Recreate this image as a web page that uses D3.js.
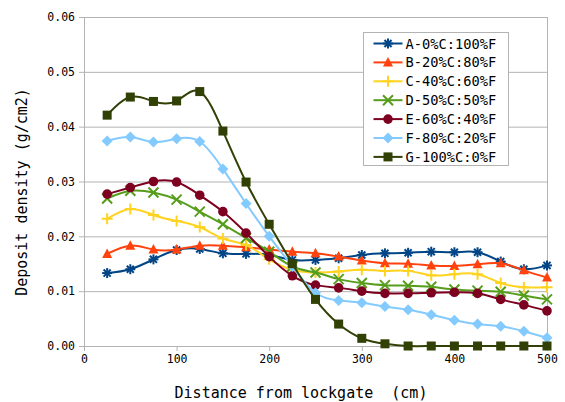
<!DOCTYPE html>
<html>
<head>
<meta charset="utf-8">
<script src="https://cdn.jsdelivr.net/npm/d3@7"></script>
<style>
  body { margin: 0; background: #fff; }
  text { font-family: "DejaVu Sans Mono", monospace; fill: #000; }
</style>
</head>
<body>
<div id="chart"></div>
<script>
// distances from lockgate (cm)
var distances = [25, 50, 75, 100, 125, 150, 175, 200, 225, 250,
  275, 300, 325, 350, 375, 400, 425, 450, 475, 500];

var seriesNames = ["A-0%C:100%F", "B-20%C:80%F", "C-40%C:60%F", "D-50%C:50%F",
  "E-60%C:40%F", "F-80%C:20%F", "G-100%C:0%F"];

var seriesA = [0.0133, 0.0140, 0.0158, 0.0175, 0.0177, 0.0169, 0.0168, 0.0166, 0.0157, 0.0157,
  0.0160, 0.0166, 0.0169, 0.0170, 0.0172, 0.0171, 0.0171, 0.0154, 0.0140, 0.0147];
var seriesB = [0.0168, 0.0183, 0.0176, 0.0176, 0.0183, 0.0183, 0.0180, 0.0176, 0.0172, 0.0169,
  0.0163, 0.0156, 0.0151, 0.0150, 0.0147, 0.0146, 0.0149, 0.0151, 0.0138, 0.0125];
var seriesC = [0.0232, 0.0250, 0.0239, 0.0228, 0.0217, 0.0196, 0.0184, 0.0158, 0.0139, 0.0134,
  0.0136, 0.0139, 0.0137, 0.0137, 0.0129, 0.0131, 0.0131, 0.0115, 0.0107, 0.0107];
var seriesD = [0.0269, 0.0283, 0.0280, 0.0267, 0.0245, 0.0222, 0.0197, 0.0172, 0.0145, 0.0134,
  0.0122, 0.0115, 0.0111, 0.0110, 0.0108, 0.0103, 0.0101, 0.0099, 0.0092, 0.0085];
var seriesE = [0.0277, 0.0289, 0.0300, 0.0299, 0.0275, 0.0245, 0.0206, 0.0163, 0.0128, 0.0111,
  0.0106, 0.0100, 0.0096, 0.0096, 0.0097, 0.0098, 0.0096, 0.0085, 0.0075, 0.0064];
var seriesF = [0.0374, 0.0381, 0.0372, 0.0378, 0.0373, 0.0323, 0.0260, 0.0200, 0.0145, 0.0097,
  0.0083, 0.0079, 0.0072, 0.0066, 0.0057, 0.0047, 0.0040, 0.0036, 0.0027, 0.0015];
var seriesG = [0.0421, 0.0454, 0.0446, 0.0447, 0.0464, 0.0392, 0.0299, 0.0222, 0.0150, 0.0085,
  0.0040, 0.0014, 0.0004, 0, 0, 0, 0, 0, 0, 0];

var xTicks = [0, 100, 200, 300, 400, 500];
var yTicks = [0, 0.01, 0.02, 0.03, 0.04, 0.05, 0.06];

var colors = ["#004586", "#ff420e", "#ffd320", "#579d1c", "#7e0021", "#83caff", "#314004"];
var markers = ["star", "triangle", "plus", "cross", "circle", "diamond", "square"];

var allSeries = [seriesA, seriesB, seriesC, seriesD, seriesE, seriesF, seriesG];

var svgWidth = 565;
var svgHeight = 402;
var margin = { top: 17, right: 18, bottom: 56, left: 84 };
var chartWidth = svgWidth - margin.left - margin.right;
var chartHeight = svgHeight - margin.top - margin.bottom;

var svg = d3.select("#chart").append("svg")
  .attr("width", svgWidth)
  .attr("height", svgHeight);

var chartGroup = svg.append("g")
  .attr("transform", `translate(${margin.left}, ${margin.top})`);

var xScale = d3.scaleLinear().domain([0, 500]).range([0, chartWidth]);
var yScale = d3.scaleLinear().domain([0, 0.06]).range([chartHeight, 0]);

var gridColor = "#b3b3b3";

// horizontal grid lines
chartGroup.selectAll(".grid")
  .data(yTicks)
  .enter()
  .append("line")
  .attr("x1", 0)
  .attr("x2", chartWidth)
  .attr("y1", d => yScale(d) + 0.5)
  .attr("y2", d => yScale(d) + 0.5)
  .attr("stroke", gridColor);

// right border of plot area
chartGroup.append("line")
  .attr("x1", chartWidth + 0.5).attr("x2", chartWidth + 0.5)
  .attr("y1", 0).attr("y2", chartHeight)
  .attr("stroke", gridColor);

// axes
var bottomAxis = d3.axisBottom(xScale).tickValues(xTicks).tickSize(5).tickPadding(4);
var leftAxis = d3.axisLeft(yScale).tickValues(yTicks).tickSize(5).tickPadding(4)
  .tickFormat(d3.format(".2f"));

var xAxis = chartGroup.append("g")
  .attr("transform", `translate(0, ${chartHeight})`)
  .call(bottomAxis);

var yAxis = chartGroup.append("g")
  .call(leftAxis);

[xAxis, yAxis].forEach(function(ax) {
  ax.select(".domain").attr("stroke", gridColor);
  ax.selectAll(".tick line").attr("stroke", gridColor);
  ax.selectAll(".tick text")
    .attr("font-family", "DejaVu Sans Mono")
    .attr("font-size", "11.5px")
    .attr("fill", "#000");
});

// axis titles
svg.append("text")
  .attr("x", 301)
  .attr("y", 398)
  .attr("text-anchor", "middle")
  .attr("font-size", "15px")
  .text("Distance from lockgate\u00a0\u00a0(cm)");

svg.append("text")
  .attr("transform", "translate(27, 192) rotate(-90)")
  .attr("text-anchor", "middle")
  .attr("font-size", "15px")
  .text("Deposit density (g/cm2)");

// marker drawing
function drawMarker(g, type, color) {
  if (type === "star") {
    var r = 5;
    [0, 45, 90, 135].forEach(function(a) {
      var rad = a * Math.PI / 180;
      g.append("line")
        .attr("x1", -r * Math.cos(rad)).attr("y1", -r * Math.sin(rad))
        .attr("x2", r * Math.cos(rad)).attr("y2", r * Math.sin(rad))
        .attr("stroke", color).attr("stroke-width", 2);
    });
  } else if (type === "triangle") {
    g.append("path").attr("d", "M0,-5.5L5,4L-5,4Z").attr("fill", color);
  } else if (type === "plus") {
    g.append("path").attr("d", "M-5.5,0H5.5M0,-5.5V5.5")
      .attr("stroke", color).attr("stroke-width", 2).attr("fill", "none");
  } else if (type === "cross") {
    g.append("path").attr("d", "M-5,-5L5,5M-5,5L5,-5")
      .attr("stroke", color).attr("stroke-width", 2).attr("fill", "none");
  } else if (type === "circle") {
    g.append("circle").attr("r", 4.8).attr("fill", color);
  } else if (type === "diamond") {
    g.append("path").attr("d", "M0,-5.5L5.5,0L0,5.5L-5.5,0Z").attr("fill", color);
  } else if (type === "square") {
    g.append("rect").attr("x", -4.5).attr("y", -4.5).attr("width", 9).attr("height", 9)
      .attr("fill", color);
  }
}

var line = d3.line()
  .x((d, i) => xScale(distances[i]))
  .y(d => yScale(d))
  .curve(d3.curveNatural);

allSeries.forEach(function(values, s) {
  chartGroup.append("path")
    .datum(values)
    .attr("d", line)
    .attr("fill", "none")
    .attr("stroke", colors[s])
    .attr("stroke-width", 2);

  values.forEach(function(v, i) {
    var mg = chartGroup.append("g")
      .attr("transform", `translate(${xScale(distances[i])}, ${yScale(v)})`);
    drawMarker(mg, markers[s], colors[s]);
  });
});

// legend
var legend = svg.append("g").attr("transform", "translate(363.5, 32.5)");
legend.append("rect")
  .attr("width", 145)
  .attr("height", 133)
  .attr("fill", "#fff")
  .attr("stroke", gridColor);

seriesNames.forEach(function(name, s) {
  var y = 11 + s * 18.9;
  legend.append("line")
    .attr("x1", 10).attr("x2", 39)
    .attr("y1", y).attr("y2", y)
    .attr("stroke", colors[s]).attr("stroke-width", 2);
  drawMarker(legend.append("g").attr("transform", `translate(24.5, ${y})`), markers[s], colors[s]);
  legend.append("text")
    .attr("x", 42)
    .attr("y", y + 5)
    .attr("font-size", "13.7px")
    .text(name);
});
</script>
</body>
</html>
